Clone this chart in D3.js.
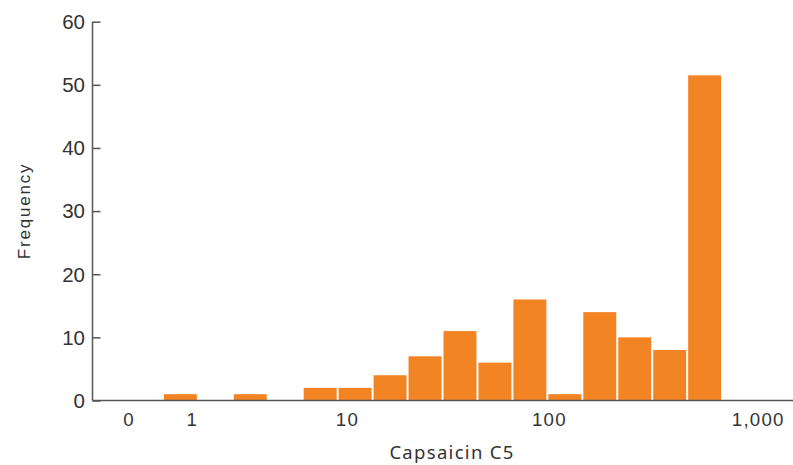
<!DOCTYPE html>
<html><head><meta charset="utf-8">
<script src="https://cdn.jsdelivr.net/npm/d3@7"></script>
<style>body{margin:0;background:#fff}svg{display:block}</style>
</head><body><svg id="c" width="793" height="465"></svg>
<script>
// bins on log10(value + 1) scale, each 1/6 decade wide (lower edges)
const binLow = [-1/6, 0, 1/6, 2/6, 3/6, 4/6, 5/6, 6/6, 7/6, 8/6, 9/6, 10/6, 11/6, 12/6, 13/6, 14/6, 15/6, 16/6, 17/6, 18/6];
const counts = [0, 0, 1, 0, 1, 0, 2, 2, 4, 7, 11, 6, 16, 1, 14, 10, 8, 51.5, 0, 0];
const binWidth = 1/6;
const xTickValues = [0, 1, 10, 100, 1000];
const xTickLabels = ["0", "1", "10", "100", "1,000"];
const yTicks = [0, 10, 20, 30, 40, 50, 60];

const svg = d3.select("#c");
const t = v => Math.log10(v + 1);
const x = d3.scaleLinear().domain([-1/6, 19/6]).range([93, 792]);
const y = d3.scaleLinear().domain([0, 60]).range([400.5, 21.7]);
const axisColor = "#555";

const bins = binLow.map((lo, i) => ({lo, hi: lo + binWidth, n: counts[i]})).filter(d => d.n > 0);
svg.append("g").selectAll("rect").data(bins).join("rect")
  .attr("x", d => x(d.lo) + 1)
  .attr("width", d => x(d.hi) - x(d.lo) - 2)
  .attr("y", d => y(d.n))
  .attr("height", d => y(0) - y(d.n))
  .attr("fill", "#f38424");

// y axis
const ya = svg.append("g").attr("transform", "translate(92.5,0)")
  .call(d3.axisRight(y).tickValues(yTicks).tickSize(8).tickFormat(""));
ya.select(".domain").attr("d", `M0,${y(60)}V${y(0)}`).attr("stroke", axisColor).attr("stroke-width", 1.5);
ya.selectAll(".tick line").attr("stroke", axisColor).attr("stroke-width", 1.5);
svg.append("g").selectAll("text").data(yTicks).join("text")
  .attr("x", 85).attr("y", d => y(d)).attr("dy", "0.36em")
  .attr("text-anchor", "end")
  .attr("font-family", "Liberation Sans, Arial, sans-serif").attr("font-size", 20.5)
  .attr("fill", "#333").text(d => d);

// x axis
const xa = svg.append("g").attr("transform", `translate(0,${y(0)})`)
  .call(d3.axisBottom(x).tickValues(xTickValues.map(t)).tickSize(0).tickPadding(0).tickFormat((d, i) => xTickLabels[i]));
xa.select(".domain").attr("d", "M92.5,0H793").attr("stroke", axisColor).attr("stroke-width", 1.5);
xa.selectAll(".tick text").attr("y", 25.5).attr("dy", 0).attr("dx", 0.6)
  .attr("font-family", "Liberation Sans, Arial, sans-serif").attr("font-size", 18.7)
  .attr("letter-spacing", "1.2px").attr("fill", "#333");

// axis titles
svg.append("text").attr("x", 452).attr("y", 459).attr("text-anchor", "middle")
  .attr("font-family", "Noto Sans, sans-serif").attr("font-size", 18.5).attr("letter-spacing", "1.3px")
  .attr("fill", "#333").text("Capsaicin C5");
svg.append("text").attr("transform", "translate(30,211) rotate(-90)").attr("text-anchor", "middle")
  .attr("font-family", "Liberation Sans, Arial, sans-serif").attr("font-size", 17).attr("letter-spacing", "1.8px")
  .attr("fill", "#333").text("Frequency");
</script></body></html>
